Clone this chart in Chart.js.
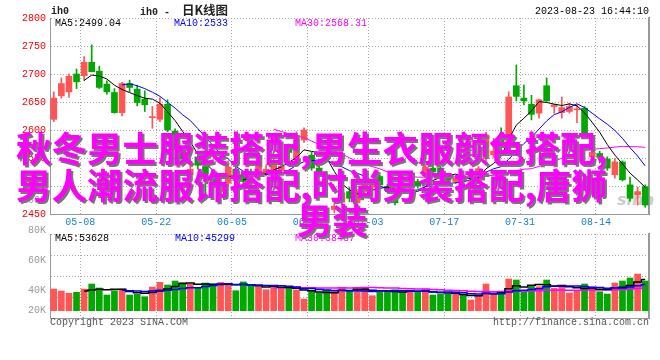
<!DOCTYPE html>
<html>
<head>
<meta charset="utf-8">
<script src="https://cdn.jsdelivr.net/npm/chart.js@4"></script>
<style>
body { margin: 0; background: #fff; }
#wrap { position: relative; width: 660px; height: 360px; overflow: hidden; font-family: "Liberation Mono", monospace; font-size: 10px; }
canvas { position: absolute; left: 0; }
.t { position: absolute; white-space: pre; line-height: 12px; }
.big { position: absolute; white-space: nowrap; font-family: "Noto Sans CJK SC", sans-serif; font-weight: bold;
       font-size: 35.5px; line-height: 36px; color: #ff00ff; text-shadow: 2px 2px 0 #777; }
</style>
</head>
<body>
<div id="wrap">
  <div class="t" style="left:617px;top:192px;font:italic bold 16px 'DejaVu Sans';color:#ccc;line-height:16px">sina</div>
  <canvas id="price" width="660" height="232" style="top:0"></canvas>
  <canvas id="vol" width="660" height="136" style="top:190px"></canvas>

  <div class="t" style="left:51px;top:6px;font-weight:bold;color:#222">ih0</div>
  <div class="t" style="left:140px;top:4px;font-weight:bold;color:#222">ih0 -  <span style="font-family:'Noto Sans CJK SC';font-size:12.5px">日K线图</span></div>
  <div class="t" style="left:535px;top:6px;color:#000">2023-08-23 16:44:10</div>
  <div class="t" style="left:55px;top:18px;color:#000">MA5:2499.04</div>
  <div class="t" style="left:174px;top:18px;color:#0000ff">MA10:2533</div>
  <div class="t" style="left:295px;top:18px;color:#ff00ff">MA30:2568.31</div>

  <div class="t" style="left:55px;top:233px;color:#000">MA5:53628</div>
  <div class="t" style="left:175px;top:233px;color:#0000ff">MA10:45299</div>
  <div class="t" style="left:295px;top:233px;color:#ff00ff">MA30:38437</div>

  <div class="t" style="left:50px;top:317px;color:#555">Copyright 2023 SINA.COM</div>
  <div class="t" style="left:493px;top:317px;color:#555">http://finance.sina.com.cn</div>

  <div class="big" style="left:16px;top:129px">秋冬男士服装搭配,男生衣服颜色搭配,</div>
  <div class="big" style="left:16px;top:166px">男人潮流服饰搭配,时尚男装搭配,唐狮</div>
  <div class="big" style="left:297px;top:201px">男装</div>
</div>
<script>
// trading days shown (2023)
var days = ["04-28","05-04","05-05","05-08","05-09","05-10","05-11","05-12","05-15","05-16",
  "05-17","05-18","05-19","05-22","05-23","05-24","05-25","05-26","05-29","05-30",
  "05-31","06-01","06-02","06-05","06-06","06-07","06-08","06-09","06-12","06-13",
  "06-14","06-15","06-16","06-19","06-20","06-21","06-26","06-27","06-28","06-29",
  "06-30","07-03","07-04","07-05","07-06","07-07","07-10","07-11","07-12","07-13",
  "07-14","07-17","07-18","07-19","07-20","07-21","07-24","07-25","07-26","07-27",
  "07-28","07-31","08-01","08-02","08-03","08-04","08-07","08-08","08-09","08-10",
  "08-11","08-14","08-15","08-16","08-17","08-18","08-21","08-22","08-23"];

var open = [2619,2661,2668,2700,2697,2721,2705,2682,2667,2631,
  2683,2673,2655,2622,2619,2646,2598,2566,2520,2552,
  2535,2515,2490,2505,2530,2520,2525,2520,2522,2528,
  2528,2570,2546,2582,2555,2532,2520,2458,2471,2490,
  2470,2490,2498,2517,2499,2480,2500,2488,2508,2520,
  2532,2532,2516,2508,2518,2496,2508,2549,2556,2590,
  2576,2679,2657,2646,2630,2679,2642,2631,2633,2636,
  2639,2552,2558,2548,2520,2543,2502,2484,2499];
var close = [2657,2683,2696,2686,2721,2704,2676,2668,2631,2683,
  2676,2649,2645,2623,2646,2600,2570,2548,2530,2537,
  2522,2500,2498,2534,2515,2508,2518,2541,2530,2546,
  2535,2560,2582,2600,2532,2523,2512,2464,2488,2478,
  2490,2505,2503,2502,2492,2470,2496,2494,2500,2534,
  2525,2523,2510,2514,2509,2508,2531,2591,2562,2572,
  2659,2660,2652,2628,2654,2652,2645,2640,2642,2637,
  2590,2560,2551,2532,2543,2511,2478,2490,2466];
var high = [2668,2693,2700,2709,2731,2752,2714,2688,2674,2685,
  2689,2680,2670,2642,2658,2654,2602,2570,2550,2556,
  2540,2520,2506,2545,2535,2524,2530,2545,2538,2550,
  2545,2575,2597,2604,2560,2536,2526,2478,2495,2498,
  2494,2510,2510,2520,2503,2484,2504,2500,2512,2538,
  2536,2536,2520,2518,2522,2512,2535,2596,2585,2604,
  2668,2716,2680,2662,2655,2693,2646,2659,2648,2645,
  2642,2568,2562,2552,2549,2545,2516,2498,2502];
var low = [2615,2657,2658,2674,2688,2704,2674,2664,2630,2625,
  2668,2643,2633,2603,2615,2597,2565,2542,2516,2530,
  2475,2478,2484,2500,2510,2504,2510,2516,2518,2524,
  2524,2552,2542,2578,2528,2518,2505,2452,2466,2472,
  2466,2486,2494,2498,2488,2466,2490,2484,2496,2515,
  2520,2518,2505,2504,2505,2492,2504,2545,2550,2565,
  2572,2652,2645,2618,2621,2651,2630,2621,2630,2613,
  2585,2545,2541,2528,2514,2509,2473,2466,2462];

var ma5 = [null,null,null,null,2688.6,2698.0,2696.6,2691.0,2680.0,2672.4,
  2666.8,2661.4,2656.8,2655.2,2647.8,2632.6,2616.8,2597.4,2578.8,2557.0,
  2541.4,2527.4,2517.4,2518.2,2513.8,2511.0,2514.6,2523.2,2522.4,2528.6,
  2534.0,2542.4,2550.6,2564.6,2561.8,2559.4,2549.8,2526.2,2503.8,2493.0,
  2486.4,2485.0,2492.8,2495.6,2498.4,2494.4,2492.6,2490.8,2490.4,2498.8,
  2509.8,2515.2,2518.4,2521.2,2516.2,2512.8,2514.4,2530.6,2540.2,2552.8,
  2583.0,2608.8,2621.0,2634.2,2650.6,2649.2,2646.2,2643.8,2646.6,2643.2,
  2630.8,2613.8,2596.0,2574.0,2555.2,2539.4,2523.0,2510.8,2497.6];
var ma10 = [null,null,null,null,null,null,null,null,null,2680.5,
  2682.4,2679.0,2673.9,2667.6,2660.1,2649.7,2639.1,2627.1,2617.0,2602.4,
  2587.0,2572.1,2557.4,2548.5,2535.4,2526.2,2521.0,2520.3,2520.3,2521.2,
  2522.5,2528.5,2536.9,2543.5,2545.2,2546.7,2546.1,2538.4,2534.2,2527.4,
  2522.9,2517.4,2509.5,2499.7,2495.7,2490.4,2488.8,2491.8,2493.0,2498.6,
  2502.1,2503.9,2504.6,2505.8,2507.5,2511.3,2514.8,2524.5,2530.7,2534.5,
  2547.9,2561.6,2575.8,2587.2,2601.7,2616.1,2627.5,2632.4,2640.4,2646.9,
  2640.0,2630.0,2619.9,2610.3,2599.2,2585.1,2568.4,2553.4,2535.8];
var ma30 = [null,null,null,null,null,null,null,null,null,null,
  null,null,null,null,null,null,null,null,null,null,
  null,null,null,null,null,null,null,null,null,2601.4,
  2597.3,2593.2,2589.4,2586.5,2580.2,2574.2,2568.7,2562.0,2557.2,2550.3,
  2544.1,2539.3,2534.6,2530.6,2525.4,2521.1,2518.6,2516.8,2515.8,2515.7,
  2515.8,2516.6,2517.0,2516.3,2516.1,2516.1,2516.6,2518.2,2519.3,2520.2,
  2524.3,2527.6,2530.0,2530.9,2535.0,2539.3,2543.7,2549.6,2554.7,2560.0,
  2563.3,2565.2,2566.8,2567.8,2569.5,2570.8,2570.2,2570.1,2569.0];

// volume, thousands
var volumeK = [36.9,33.5,29.6,31.2,36.9,45.4,38.6,26.7,34.0,36.9,
  26.7,27.8,23.8,40.3,48.2,43.7,50.5,47.7,44.8,38.0,
  47.0,46.0,48.0,46.0,34.0,49.0,42.5,40.8,35.7,40.8,
  40.0,40.0,35.4,19.9,33.5,30.0,35.0,34.0,39.0,34.0,
  38.0,38.0,25.5,31.2,34.0,35.2,32.3,32.3,31.2,36.9,
  26.7,28.4,28.0,28.4,26.7,18.2,26.7,45.4,28.0,33.5,
  53.9,52.2,34.0,42.0,40.8,52.2,38.0,42.0,30.0,33.5,
  45.4,40.3,32.3,28.4,47.1,50.5,55.6,62.4,50.5];
var volMa5 = [null,null,null,null,33.62,35.32,36.34,35.76,36.32,36.32,
  32.58,30.42,29.84,31.1,33.36,36.76,41.3,46.08,46.98,44.94,
  45.6,44.7,44.76,45.0,44.2,44.6,43.9,42.46,40.4,41.76,
  39.96,39.46,38.38,35.22,33.76,31.76,30.76,30.48,34.3,34.4,
  36.0,36.6,34.9,33.34,33.34,32.78,31.64,33.0,33.0,33.58,
  31.88,31.1,30.24,29.68,27.64,25.94,25.6,29.08,29.0,30.36,
  37.5,42.6,40.32,43.12,44.58,44.24,41.4,43.0,40.6,39.14,
  37.78,38.24,36.3,35.98,38.7,39.72,42.78,48.8,53.22];
var volMa10 = [null,null,null,null,null,null,null,null,null,34.97,
  33.95,33.38,32.8,33.71,34.84,34.67,35.86,37.96,39.04,39.15,
  41.18,43.0,45.42,45.99,44.57,45.1,44.3,43.61,42.7,42.98,
  42.28,41.68,40.42,37.81,37.76,35.86,35.11,34.43,34.76,34.08,
  33.88,33.68,32.69,33.82,33.87,34.39,34.12,33.95,33.17,33.46,
  32.33,31.37,31.62,31.34,30.61,28.91,28.35,29.66,29.34,29.0,
  31.72,34.1,34.7,36.06,37.47,40.87,42.0,41.66,41.86,41.86,
  41.01,39.82,39.65,38.29,38.92,38.75,40.51,42.55,44.6];
var volMa30 = [null,null,null,null,null,null,null,null,null,null,
  null,null,null,null,null,null,null,null,null,null,
  null,null,null,null,null,null,null,null,null,39.03,
  39.14,39.35,39.55,39.17,39.06,38.54,38.42,38.67,38.83,38.74,
  39.11,39.45,39.51,39.21,38.73,38.45,37.84,37.33,36.88,36.84,
  36.16,35.58,34.91,34.32,34.08,33.05,32.53,32.68,32.42,32.18,
  32.64,33.05,33.0,33.74,33.98,34.72,34.82,35.09,34.79,34.77,
  35.02,35.1,35.32,35.23,35.67,36.18,36.95,37.96,38.6];

var xTickLabels = ["05-08","05-22","06-05","06-19","07-03","07-17","07-31","08-14"];
var priceTicks = [2450,2500,2550,2600,2650,2700,2750,2800];
var volTickLabels = [100,80,60,40,20];

var RED = '#ff5555', GREEN = '#00a800';
var GRID = '#aaaaaa', FRAME = '#999999';

Chart.defaults.font.family = "'Liberation Mono', monospace";
Chart.defaults.font.size = 10;
Chart.defaults.animation = false;

// grid line sits at the right edge of the labelled day
var tickPos = xTickLabels.map(function (d) { return days.indexOf(d) + 0.5; });
var barColors = days.map(function (d, i) { return close[i] >= open[i] ? RED : GREEN; });

function pts(arr) {
  return arr.map(function (v, i) { return { x: i, y: v }; }).filter(function (p) { return p.y !== null; });
}

function xScale(showLabels, h) {
  return {
    type: 'linear', min: -0.5, max: days.length - 0.5, offset: false,
    afterBuildTicks: function (s) { s.ticks = tickPos.map(function (v) { return { value: v }; }); },
    afterFit: function (s) { s.height = h; },
    grid: { color: GRID, drawTicks: false, offset: false },
    border: { color: FRAME, dash: [1, 2] },
    ticks: {
      display: showLabels, autoSkip: false, maxRotation: 0, padding: 2, color: '#1a7fc8',
      callback: function (v, i) { return xTickLabels[i]; }
    }
  };
}

function rightFrame() {
  return {
    position: 'right', display: true,
    afterFit: function (s) { s.width = 11; },
    grid: { display: false },
    border: { color: FRAME, width: 2 },
    ticks: { display: false }
  };
}

new Chart(document.getElementById('price'), {
  type: 'bar',
  data: {
    datasets: [
      { data: days.map(function (d, i) { return { x: i, y: [low[i], high[i]] }; }),
        backgroundColor: barColors, barThickness: 1, grouped: false, order: 3 },
      { data: days.map(function (d, i) { return { x: i, y: [open[i], close[i]] }; }),
        backgroundColor: barColors, barThickness: 6, minBarLength: 1, grouped: false, order: 2 },
      { type: 'line', data: pts(ma30), borderColor: '#ff00ff', borderWidth: 1, pointRadius: 0, order: 1 },
      { type: 'line', data: pts(ma10), borderColor: '#0000ff', borderWidth: 1, pointRadius: 0, order: 0 },
      { type: 'line', data: pts(ma5), borderColor: '#000000', borderWidth: 1, pointRadius: 0, order: 0 }
    ]
  },
  options: {
    responsive: false,
    events: [],
    layout: { padding: { top: 18 }, autoPadding: false },
    plugins: { legend: { display: false }, tooltip: { enabled: false } },
    scales: {
      x: xScale(true, 18),
      y: {
        min: 2450, max: 2800,
        afterBuildTicks: function (s) { s.ticks = priceTicks.map(function (v) { return { value: v }; }); },
        afterFit: function (s) { s.width = 50; },
        grid: { color: GRID, drawTicks: false },
        border: { color: FRAME, dash: [1, 2] },
        ticks: { color: '#ff0000', padding: 4, callback: function (v) { return String(v); } }
      },
      yr: rightFrame()
    }
  }
});

// grey volume labels, clamped to the zero line like the original
var volLabelPlugin = {
  id: 'volLabels',
  afterDraw: function (chart) {
    var ctx = chart.ctx, yl = chart.scales.yl, y = chart.scales.y;
    var floor = y.getPixelForValue(0);
    ctx.save();
    ctx.fillStyle = '#999';
    ctx.font = "10px 'Liberation Mono', monospace";
    ctx.textAlign = 'right';
    ctx.textBaseline = 'middle';
    volTickLabels.forEach(function (v) {
      ctx.fillText(v + 'K', 46, Math.min(yl.getPixelForValue(v), floor));
    });
    ctx.restore();
  }
};

var vMin = -12.4, vMax = 130.4;
new Chart(document.getElementById('vol'), {
  type: 'bar',
  data: {
    datasets: [
      { data: days.map(function (d, i) { return { x: i, y: volumeK[i] }; }),
        backgroundColor: barColors, barThickness: 6, grouped: false, order: 2 },
      { type: 'line', data: pts(volMa30), borderColor: '#ff00ff', borderWidth: 1.5, pointRadius: 0, stepped: 'middle', order: 1 },
      { type: 'line', data: pts(volMa10), borderColor: '#0000ff', borderWidth: 1.5, pointRadius: 0, stepped: 'middle', order: 0 },
      { type: 'line', data: pts(volMa5), borderColor: '#000000', borderWidth: 1.5, pointRadius: 0, stepped: 'middle', order: 0 }
    ]
  },
  options: {
    responsive: false,
    events: [],
    layout: { padding: { top: 44 }, autoPadding: false },
    plugins: { legend: { display: false }, tooltip: { enabled: false } },
    scales: {
      x: xScale(false, 8),
      y: {
        min: vMin, max: vMax,
        afterBuildTicks: function (s) {
          var q = (vMax - vMin) / 4;
          s.ticks = [0, 1, 2, 3, 4].map(function (k) { return { value: vMin + k * q }; });
        },
        afterFit: function (s) { s.width = 50; },
        grid: { color: GRID, drawTicks: false },
        border: { color: FRAME, dash: [1, 2] },
        ticks: { display: false }
      },
      yl: {
        position: 'left', min: 21.33, max: 77.33,
        afterFit: function (s) { s.width = 0; },
        grid: { display: false }, border: { display: false }, ticks: { display: false }
      },
      yr: rightFrame()
    }
  },
  plugins: [volLabelPlugin]
});
</script>
</body>
</html>
